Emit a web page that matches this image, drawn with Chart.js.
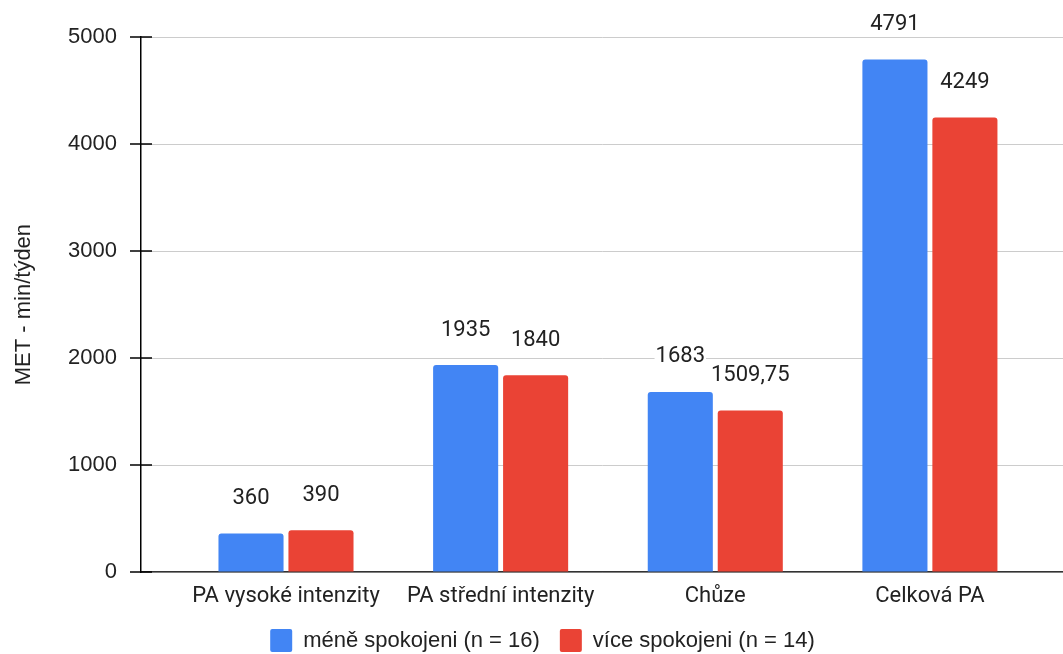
<!DOCTYPE html>
<html>
<head>
<meta charset="utf-8">
<script src="https://cdn.jsdelivr.net/npm/chart.js@4"></script>
<style>
  html, body { margin: 0; padding: 0; background: #fff; }
  #wrap { width: 1063px; height: 654px; }
</style>
</head>
<body>
<div id="wrap"><canvas id="metChart"></canvas></div>
<script>
// chart data
const categories = ['PA vysoké intenzity', 'PA střední intenzity', 'Chůze', 'Celková PA'];
const seriesNames = ['méně spokojeni (n = 16)', 'více spokojeni (n = 14)'];
const lessSatisfied = [360, 1935, 1683, 4791];
const moreSatisfied = [390, 1840, 1509.75, 4249];
const yTickValues = [0, 1000, 2000, 3000, 4000, 5000];

const toPoints = arr => arr.map((v, i) => ({ x: i, y: v }));

// value labels above the bars (comma as decimal separator)
const valueLabels = {
  id: 'valueLabels',
  afterDatasetsDraw(chart) {
    const ctx = chart.ctx;
    ctx.save();
    ctx.font = '22px Roboto';
    ctx.textAlign = 'center';
    ctx.textBaseline = 'middle';
    chart.data.datasets.forEach((ds, di) => {
      chart.getDatasetMeta(di).data.forEach((bar, i) => {
        const text = String(ds.data[i].y).replace('.', ',');
        const w = ctx.measureText(text).width;
        const y = bar.y - 35;
        ctx.fillStyle = '#fff';
        ctx.fillRect(bar.x - w / 2 - 1, y - 9, w + 2, 18);
        ctx.fillStyle = '#222';
        ctx.fillText(text, bar.x, y);
      });
    });
    ctx.restore();
  }
};

// tick marks crossing the y axis line
const yTickMarks = {
  id: 'yTickMarks',
  afterDraw(chart) {
    const s = chart.scales.y;
    const ctx = chart.ctx;
    ctx.save();
    ctx.strokeStyle = '#000';
    ctx.lineWidth = 1.5;
    s.ticks.forEach(t => {
      const py = Math.round(s.getPixelForValue(t.value));
      ctx.beginPath();
      ctx.moveTo(s.right - 11, py);
      ctx.lineTo(s.right + 11, py);
      ctx.stroke();
    });
    ctx.restore();
  }
};

Chart.defaults.font.family = "'Liberation Sans', Arial, sans-serif";
Chart.defaults.font.size = 22;
Chart.defaults.color = '#222';

const ctx = document.getElementById('metChart').getContext('2d');
const metChart = new Chart(ctx, {
  type: 'bar',
  data: {
    datasets: [{
      label: seriesNames[0],
      data: toPoints(lessSatisfied),
      backgroundColor: '#4285F4',
      borderRadius: 3,
      categoryPercentage: 0.652,
      barPercentage: 0.93
    }, {
      label: seriesNames[1],
      data: toPoints(moreSatisfied),
      backgroundColor: '#EA4335',
      borderRadius: 3,
      categoryPercentage: 0.652,
      barPercentage: 0.93
    }]
  },
  options: {
    responsive: true,
    maintainAspectRatio: false,
    animation: false,
    layout: { padding: { left: 22, top: 33, right: 0, bottom: -8 } },
    plugins: {
      legend: {
        position: 'bottom',
        labels: {
          boxWidth: 22,
          boxHeight: 23,
          padding: 20,
          useBorderRadius: true,
          borderRadius: 2
        }
      },
      tooltip: { enabled: false }
    },
    scales: {
      x: {
        type: 'linear',
        offset: false,
        min: -0.6755,
        max: 3.62,
        grid: { display: false, drawTicks: false },
        border: { color: '#333', width: 1.5 },
        ticks: {
          stepSize: 1,
          autoSkip: false,
          maxRotation: 0,
          padding: 11,
          font: { family: 'Roboto', size: 22 },
          callback: v => categories[v] ?? ''
        },
        afterBuildTicks: s => { s.ticks = s.ticks.filter(t => Number.isInteger(t.value)); },
        afterFit: s => { s.height = 37; }
      },
      y: {
        min: 0,
        max: 5000,
        afterBuildTicks: s => { s.ticks = yTickValues.map(v => ({ value: v })); },
        grid: { color: '#ccc', drawTicks: false },
        border: { color: '#000', width: 1.5 },
        ticks: { padding: 24, callback: v => String(v) },
        title: {
          display: true,
          text: 'MET - min/týden',
          padding: { top: -11, bottom: 0 }
        },
        afterFit: s => { s.width = 119; }
      }
    }
  },
  plugins: [valueLabels, yTickMarks]
});
</script>
</body>
</html>
